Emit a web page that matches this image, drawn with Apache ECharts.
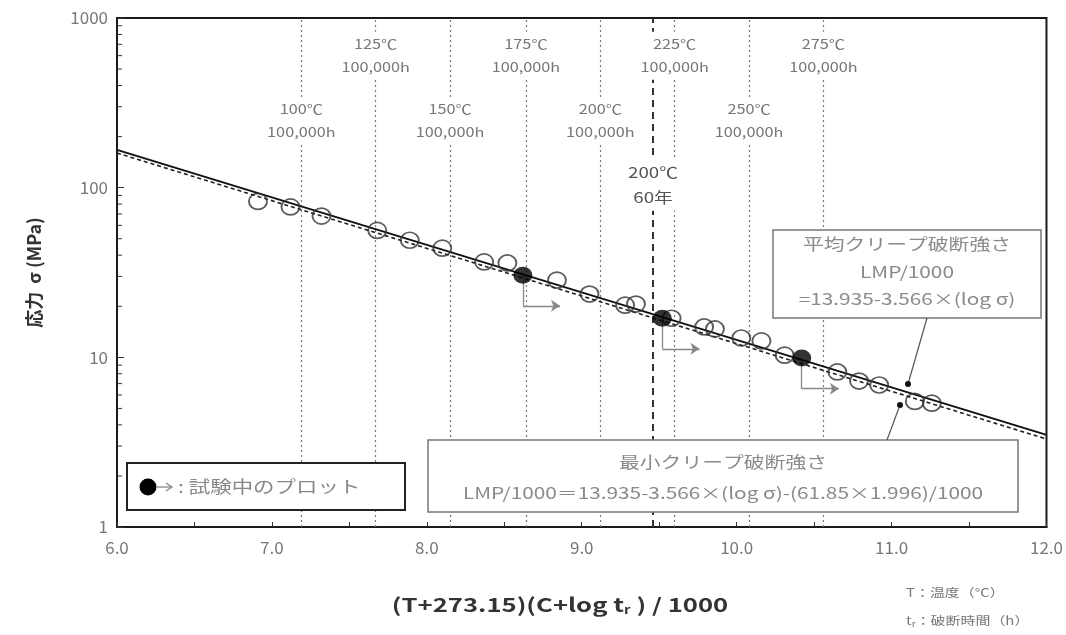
<!DOCTYPE html>
<html><head><meta charset="utf-8">
<script src="https://cdn.jsdelivr.net/npm/echarts@6/dist/echarts.min.js"></script>
<style>html,body{margin:0;padding:0;background:#fff}#c{width:1066px;height:635px}</style>
</head><body><div id="c"></div>
<script>
// ---- data ----
const openX = [6.91, 7.12, 7.32, 7.68, 7.89, 8.10, 8.37, 8.52, 8.84, 9.05, 9.28, 9.35, 9.58, 9.79, 9.86, 10.03, 10.16, 10.31, 10.65, 10.79, 10.92, 11.15, 11.26];
const openY = [83, 77, 68, 56, 49, 44, 36.5, 36, 28.5, 23.6, 20.3, 20.6, 17, 15.1, 14.7, 13, 12.5, 10.3, 8.2, 7.25, 6.87, 5.5, 5.37];
const runX = [8.62, 9.52, 10.42];
const runY = [30.5, 17, 9.9];
const meanX = [6, 12];
const meanY = [167, 3.49];
const minX = [6, 12];
const minY = [160, 3.3];
const tempX = [7.19, 7.67, 8.15, 8.64, 9.12, 9.60, 10.08, 10.56];
const tempLabels = ['100℃', '125℃', '150℃', '175℃', '200℃', '225℃', '250℃', '275℃'];
const hoursLabel = '100,000h';
const sixtyX = 9.46;
const sixtyLabel = ['200℃', '60年'];
const xTickLabels = ['6.0', '7.0', '8.0', '9.0', '10.0', '11.0', '12.0'];
const yTickLabels = ['1', '10', '100', '1000'];
const minorYVals = [2,3,4,5,6,7,8,9,20,30,40,50,60,70,80,90,200,300,400,500,600,700,800,900];

const FONT = '"Noto Sans CJK JP", "Noto Sans", sans-serif';
const GRAY = '#8a8a8a';
const SX = 1.3; // horizontal stretch of the original artwork text

const chart = echarts.init(document.getElementById('c'), null, {renderer: 'canvas'});

const labelRowHigh = 600, labelRowLow = 247, sixtyLabelY = 104;
const arrowDrop = 0.66, arrowLen = 0.24;

function labelItem(x, y, text, size, lh, color) {
  return {value: [x, y], text: text, size: size, lh: lh, color: color};
}
const labelItems = tempX.map((x, i) => labelItem(x, i % 2 === 0 ? labelRowLow : labelRowHigh,
  tempLabels[i] + '\n' + hoursLabel, 13, 23, '#777'));
labelItems.push(labelItem(sixtyX, sixtyLabelY, sixtyLabel.join('\n'), 15, 25, '#555'));

function txt(x, y, text, size, color, extra) {
  return Object.assign({type: 'text', x: x, y: y, scaleX: SX, z: 21,
    style: {text: text, fill: color, font: size + 'px ' + FONT, textAlign: 'center', textVerticalAlign: 'middle'}}, extra || {});
}

const option = {
  animation: false,
  backgroundColor: '#fff',
  textStyle: {fontFamily: FONT},
  grid: {left: 117, right: 19, top: 18, bottom: 108, show: true, borderColor: '#1a1a1a', borderWidth: 2, backgroundColor: 'transparent'},
  xAxis: {
    type: 'value', min: 6, max: 12, interval: 1,
    axisLine: {show: true, lineStyle: {color: '#1a1a1a', width: 2}},
    axisTick: {show: true, inside: true, length: 5, lineStyle: {color: '#333'}},
    minorTick: {show: true, splitNumber: 2, length: 5, lineStyle: {color: '#333'}},
    splitLine: {show: false},
    axisLabel: {color: '#777', fontSize: 17, margin: 12, fontFamily: FONT,
      formatter: v => xTickLabels[Math.round(v - 6)]}
  },
  yAxis: {
    type: 'log', logBase: 10, min: 1, max: 1000,
    axisLine: {show: true, lineStyle: {color: '#1a1a1a', width: 2}},
    axisTick: {show: true, inside: true, length: 7, lineStyle: {color: '#333'}},
    splitLine: {show: false},
    axisLabel: {color: '#777', fontSize: 17, margin: 9, fontFamily: FONT,
      formatter: v => yTickLabels[Math.round(Math.log10(v))]},
    name: '応力  σ (MPa)', nameLocation: 'middle', nameGap: 74,
    nameTextStyle: {fontSize: 18, color: '#333', fontWeight: 'bold', fontFamily: FONT}
  },
  series: [
    { // minor log ticks
      type: 'custom', silent: true, z: 10, clip: false,
      data: minorYVals.map(v => [6, v]),
      renderItem: (params, api) => {
        const p = api.coord([6, api.value(1)]);
        return {type: 'line', shape: {x1: p[0], y1: p[1], x2: p[0] + 5, y2: p[1]}, style: {stroke: '#333', lineWidth: 1}};
      }
    },
    { // vertical temperature lines
      type: 'line', data: [], silent: true, z: 1,
      markLine: {
        z: 1, symbol: 'none', silent: true, label: {show: false},
        lineStyle: {color: '#777', type: [2, 3], width: 1.2},
        data: tempX.map(x => ({xAxis: x}))
      }
    },
    { // 200C 60 years line
      type: 'line', data: [], silent: true, z: 1,
      markLine: {
        z: 1, symbol: 'none', silent: true, label: {show: false},
        lineStyle: {color: '#333', type: [7, 5], width: 2},
        data: [{xAxis: sixtyX}]
      }
    },
    { // temperature labels with white background
      type: 'custom', silent: true, z: 8,
      data: labelItems.map(d => d.value),
      renderItem: (params, api) => {
        const d = labelItems[params.dataIndex];
        const p = api.coord(d.value);
        return {type: 'text', x: p[0], y: p[1], scaleX: 1.25, style: {
          text: d.text, fill: d.color, fontSize: d.size, lineHeight: d.lh, fontFamily: FONT,
          align: 'center', verticalAlign: 'middle', backgroundColor: '#fff', padding: [1, 2]}};
      }
    },
    { // minimum line
      type: 'line', data: minX.map((x, i) => [x, minY[i]]), symbol: 'none', z: 5,
      lineStyle: {color: '#222', width: 1.6, type: [4, 3]}
    },
    { // mean line
      type: 'line', data: meanX.map((x, i) => [x, meanY[i]]), symbol: 'none', z: 5,
      lineStyle: {color: '#111', width: 2}
    },
    { // open data
      type: 'scatter', z: 6, symbol: 'circle', symbolSize: [18, 16],
      data: openX.map((x, i) => [x, openY[i]]),
      itemStyle: {color: 'rgba(255,255,255,0)', borderColor: '#333', borderWidth: 1.8}
    },
    { // arrows from running tests: vertical part
      type: 'lines', coordinateSystem: 'cartesian2d', z: 5,
      symbol: ['none', 'none'],
      lineStyle: {color: '#888', width: 1.3, opacity: 1},
      data: runX.map((x, i) => ({coords: [[x, runY[i]], [x, runY[i] * arrowDrop]]}))
    },
    { // arrows horizontal part with head
      type: 'lines', coordinateSystem: 'cartesian2d', z: 5,
      symbol: ['none', 'arrow'], symbolSize: [7, 9],
      lineStyle: {color: '#888', width: 1.3, opacity: 1},
      data: runX.map((x, i) => ({coords: [[x, runY[i] * arrowDrop], [x + arrowLen, runY[i] * arrowDrop]]}))
    },
    { // running tests
      type: 'scatter', z: 7, symbol: 'circle', symbolSize: [19, 17],
      data: runX.map((x, i) => [x, runY[i]]),
      itemStyle: {color: '#000'}
    }
  ],
  graphic: [
    // x axis title
    {type: 'text', x: 560, y: 605, scaleX: 1.35, z: 21, style: {
      text: '{n|(T+273.15)(C+log t}{s|r}{n| ) / 1000}', textAlign: 'center', textVerticalAlign: 'middle',
      rich: {n: {fontSize: 19, fill: '#333', fontWeight: 'bold', fontFamily: FONT},
             s: {fontSize: 11, fill: '#333', fontWeight: 'bold', fontFamily: FONT, padding: [9, 0, 0, 0]}}}},
    // legend box
    {type: 'rect', shape: {x: 127, y: 463, width: 278, height: 47}, style: {fill: '#fff', stroke: '#222', lineWidth: 2}, z: 20},
    {type: 'circle', shape: {cx: 148, cy: 487, r: 8.5}, style: {fill: '#000'}, z: 21},
    {type: 'polyline', shape: {points: [[157, 487], [171, 487]]}, style: {stroke: '#888', lineWidth: 1.3}, z: 21},
    {type: 'polyline', shape: {points: [[166, 483], [172, 487], [166, 491]]}, style: {stroke: '#888', fill: null, lineWidth: 1.3}, z: 21},
    txt(178, 487, ': 試験中のプロット', 16.5, '#888', {style: {text: ': 試験中のプロット', fill: '#888', font: '16.5px ' + FONT, textAlign: 'left', textVerticalAlign: 'middle'}}),
    // mean box
    {type: 'rect', shape: {x: 773, y: 230, width: 268, height: 88}, style: {fill: '#fff', stroke: '#777', lineWidth: 1.5}, z: 20},
    txt(907, 244, '平均クリープ破断強さ', 16, GRAY),
    txt(907, 272, 'LMP/1000', 16, GRAY),
    txt(907, 299, '=13.935-3.566×(log σ)', 16, GRAY),
    {type: 'polyline', shape: {points: [[927, 318], [908, 384]]}, style: {stroke: '#555', lineWidth: 1.2}, z: 20},
    {type: 'circle', shape: {cx: 908, cy: 384, r: 3}, style: {fill: '#111'}, z: 20},
    // min box
    {type: 'rect', shape: {x: 428, y: 440, width: 590, height: 72}, style: {fill: '#fff', stroke: '#777', lineWidth: 1.5}, z: 20},
    txt(723, 462, '最小クリープ破断強さ', 16, GRAY),
    txt(723, 493, 'LMP/1000＝13.935-3.566×(log σ)-(61.85×1.996)/1000', 16, GRAY),
    {type: 'polyline', shape: {points: [[887, 440], [900, 405]]}, style: {stroke: '#555', lineWidth: 1.2}, z: 20},
    {type: 'circle', shape: {cx: 900, cy: 405, r: 3}, style: {fill: '#111'}, z: 20},
    // notes
    {type: 'text', x: 906, y: 593, scaleX: SX, style: {text: 'T：温度（℃）', fill: '#777', font: '11.5px ' + FONT, textVerticalAlign: 'middle'}, z: 21},
    {type: 'text', x: 906, y: 621, scaleX: SX, style: {rich: {a: {fontSize: 11.5, fill: '#777', fontFamily: FONT}, s: {fontSize: 8, fill: '#777', fontFamily: FONT, padding: [5, 0, 0, 0]}}, text: '{a|t}{s|r}{a|：破断時間（h）}', textVerticalAlign: 'middle'}, z: 21}
  ]
};
chart.setOption(option);
</script>
</body></html>
